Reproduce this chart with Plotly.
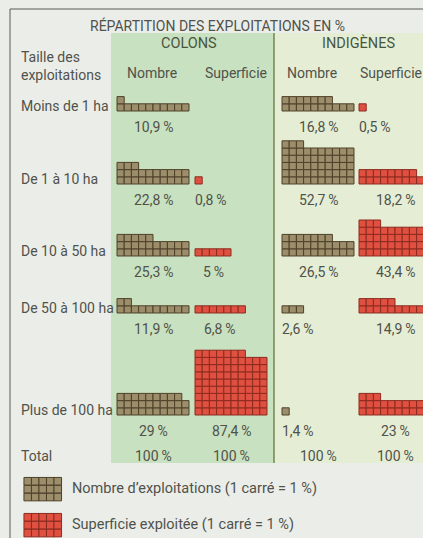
import math
import plotly.graph_objects as go

# ---------------- data ----------------
categories = ["Moins de 1 ha", "De 1 à 10 ha", "De 10 à 50 ha", "De 50 à 100 ha", "Plus de 100 ha"]
colons_nombre = [10.9, 22.8, 25.3, 11.9, 29]
colons_superficie = [None, 0.8, 5, 6.8, 87.4]
indigenes_nombre = [16.8, 52.7, 26.5, 2.6, 1.4]
indigenes_superficie = [0.5, 18.2, 43.4, 14.9, 23]
totals = [100, 100, 100, 100]
groups = ["COLONS", "INDIGÈNES"]
measures = ["Nombre", "Superficie", "Nombre", "Superficie"]
title = "RÉPARTITION DES EXPLOITATIONS EN %"
legend_labels = ["Nombre d’exploitations (1 carré = 1 %)", "Superficie exploitée (1 carré = 1 %)"]

# ---------------- layout / style ----------------
W, H = 423, 538
FONT = "Roboto, Liberation Sans, sans-serif"
TXT = "#50524b"
BG = "#ebede9"
GREEN = "#c8e1c0"
YELLOW = "#e5eed5"
BROWN_FILL, BROWN_LINE = "#9c8d6b", "#4e4029"
RED_FILL, RED_LINE = "#df5040", "#8c2b1f"
SQ = 7.2
COL_X0 = [117, 195, 282, 359]          # left edge of each column of squares
HEADER_X = [152, 236, 312, 391]         # centres of the column headers
GROUP_X = [189, 358]
ROW_BOTTOM = [111, 184, 256, 313, 415]  # baseline of each size class
PER_ROW = 10

series = [colons_nombre, colons_superficie, indigenes_nombre, indigenes_superficie]
styles = [(BROWN_FILL, BROWN_LINE), (RED_FILL, RED_LINE), (BROWN_FILL, BROWN_LINE), (RED_FILL, RED_LINE)]


def fr(v):
    s = ("%g" % v).replace(".", ",")
    return s + "\u2009%"


fig = go.Figure()
shapes = []
annotations = []

# panels
shapes.append(dict(type="rect", x0=111, x1=274, y0=33, y1=463, fillcolor=GREEN, line_width=0, layer="below"))
shapes.append(dict(type="rect", x0=274, x1=W + 5, y0=33, y1=463, fillcolor=YELLOW, line_width=0, layer="below"))
shapes.append(dict(type="line", x0=274, x1=274, y0=33, y1=463, line=dict(color="#76854e", width=1.5)))
# frame
shapes.append(dict(type="line", x0=10, x1=W + 5, y0=9, y1=9, line=dict(color="#5a5a55", width=1)))
shapes.append(dict(type="line", x0=10, x1=10, y0=9, y1=H + 5, line=dict(color="#5a5a55", width=1)))

# squares
for ci, (vals, (fill, line)) in enumerate(zip(series, styles)):
    for ri, v in enumerate(vals):
        if v is None:
            continue
        n = int(math.floor(v + 0.5))
        xs, ys = [], []
        for k in range(n):
            c, r = k % PER_ROW, k // PER_ROW
            xs.append(COL_X0[ci] + (c + 0.5) * SQ)
            ys.append(ROW_BOTTOM[ri] - (r + 0.5) * SQ)
        fig.add_trace(go.Scatter(
            x=xs, y=ys, mode="markers", hoverinfo="skip", showlegend=False,
            marker=dict(symbol="square", size=SQ, color=fill, line=dict(color=line, width=1)),
        ))
        width_sq = min(n, PER_ROW)
        if n < 5:
            ax, anchor = COL_X0[ci] - 2, "left"
        else:
            ax, anchor = COL_X0[ci] + width_sq * SQ / 2, "center"
        annotations.append(dict(x=ax, y=ROW_BOTTOM[ri] + 16, text=fr(v), xanchor=anchor, yanchor="middle",
                                showarrow=False, font=dict(size=14, color=TXT, family=FONT)))

# totals
for ci, t in enumerate(totals):
    annotations.append(dict(x=COL_X0[ci] + PER_ROW * SQ / 2, y=456, text=fr(t), xanchor="center", yanchor="middle",
                            showarrow=False, font=dict(size=14, color=TXT, family=FONT)))

# row labels
for ri, cat in enumerate(categories):
    annotations.append(dict(x=19, y=ROW_BOTTOM[ri] - 5, text=cat, xanchor="left", yanchor="middle",
                            showarrow=False, font=dict(size=14, color=TXT, family=FONT)))
annotations.append(dict(x=19, y=456, text="Total", xanchor="left", yanchor="middle",
                        showarrow=False, font=dict(size=14, color=TXT, family=FONT)))
annotations.append(dict(x=19, y=66, text="Taille des<br>exploitations", xanchor="left", yanchor="middle",
                        align="left", showarrow=False, font=dict(size=14, color=TXT, family=FONT)))

# headers
annotations.append(dict(x=217, y=25, text=title, xanchor="center", yanchor="middle",
                        showarrow=False, font=dict(size=14, color=TXT, family=FONT)))
for gx, g in zip(GROUP_X, groups):
    annotations.append(dict(x=gx, y=43, text=g, xanchor="center", yanchor="middle",
                            showarrow=False, font=dict(size=14.5, color="#48553e", family=FONT)))
for hx, m in zip(HEADER_X, measures):
    annotations.append(dict(x=hx, y=73, text=m, xanchor="center", yanchor="middle",
                            showarrow=False, font=dict(size=14, color=TXT, family=FONT)))

# legend glyphs
for li, ((fill, line), lab, ly) in enumerate(zip([styles[0], styles[1]], legend_labels, [501, 537])):
    xs, ys = [], []
    for k in range(15):
        c, r = k % 5, k // 5
        xs.append(24 + (c + 0.5) * 7.5)
        ys.append(ly - (r + 0.5) * 7.9)
    fig.add_trace(go.Scatter(
        x=xs, y=ys, mode="markers", hoverinfo="skip", showlegend=False,
        marker=dict(symbol="square", size=7.6, color=fill, line=dict(color=line, width=1)),
    ))
    annotations.append(dict(x=70, y=ly - 13, text=lab, xanchor="left", yanchor="middle",
                            showarrow=False, font=dict(size=14.5, color=TXT, family=FONT)))

fig.update_layout(
    width=W, height=H, margin=dict(l=0, r=0, t=0, b=0),
    paper_bgcolor=BG, plot_bgcolor=BG,
    xaxis=dict(range=[0, W], visible=False, fixedrange=True),
    yaxis=dict(range=[H, 0], visible=False, fixedrange=True),
    shapes=shapes, annotations=annotations,
)
fig.write_html("out.html", config={"displayModeBar": False},
               post_script="document.body.style.margin='0';document.body.style.overflow='hidden';")
